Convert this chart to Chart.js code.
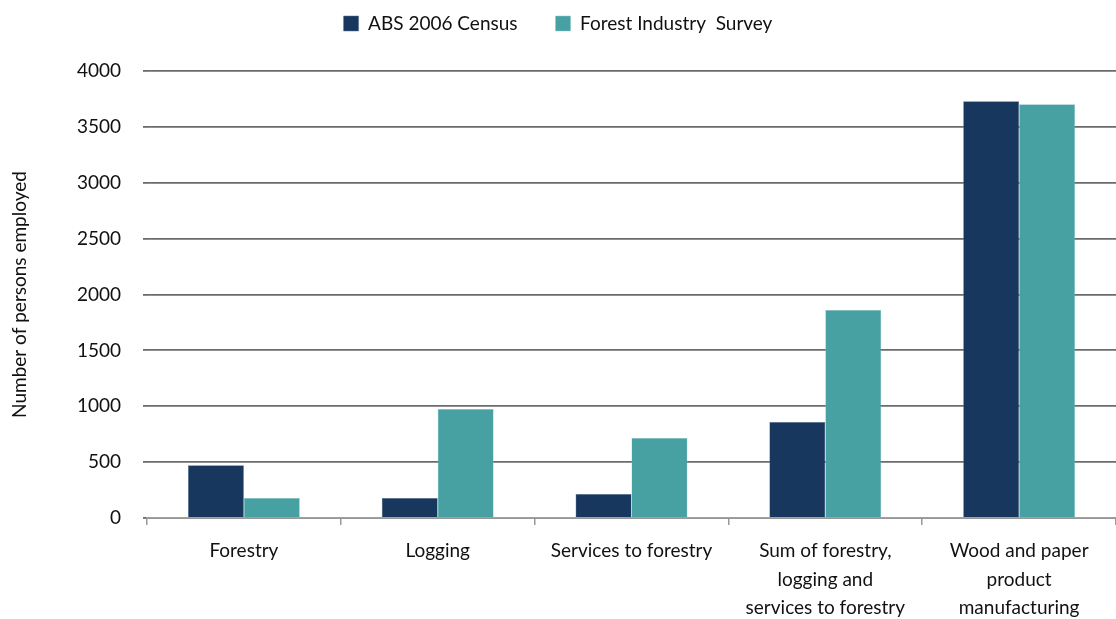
<!DOCTYPE html>
<html>
<head>
<meta charset="utf-8">
<script src="https://cdn.jsdelivr.net/npm/chart.js@4/dist/chart.umd.min.js"></script>
<style>
  html, body { margin: 0; padding: 0; background: #fff; }
  #wrap { width: 1116px; height: 619px; }
</style>
</head>
<body>
<div id="wrap"><canvas id="chart" width="1116" height="619"></canvas></div>
<script>
// ===== Data =====
const categories = [
  ["Forestry"],
  ["Logging"],
  ["Services to forestry"],
  ["Sum of forestry,", "logging and", "services to forestry"],
  ["Wood and paper", "product", "manufacturing"]
];
const absCensus = [473, 180, 215, 860, 3730];
const forestSurvey = [180, 976, 715, 1862, 3702];
const yTicks = [0, 500, 1000, 1500, 2000, 2500, 3000, 3500, 4000];

const FONT = "Lato, 'Open Sans', sans-serif";

// legend padding is wide (for item spacing), so lift the legend back up
const legendLift = {
  id: "legendLift",
  afterLayout(chart) {
    chart.legend.top -= 28;
    chart.legend.bottom -= 28;
  }
};

// ===== Chart =====
const ctx = document.getElementById("chart");
new Chart(ctx, {
  type: "bar",
  data: {
    labels: categories,
    datasets: [
      {
        label: "ABS 2006 Census",
        data: absCensus,
        backgroundColor: "#17375E",
        borderColor: "#5a6f8c",
        borderWidth: 0.5,
        barPercentage: 1.0,
        categoryPercentage: 0.577
      },
      {
        label: "Forest Industry  Survey",
        data: forestSurvey,
        backgroundColor: "#47A0A1",
        borderColor: "#8cc9ca",
        borderWidth: 0.5,
        barPercentage: 1.0,
        categoryPercentage: 0.577
      }
    ]
  },
  plugins: [legendLift],
  options: {
    responsive: false,
    animation: false,
    layout: { padding: { top: 4, right: 0, bottom: 0, left: 0 } },
    plugins: {
      legend: {
        position: "top",
        labels: {
          color: "#111",
          font: { family: FONT, size: 19 },
          boxWidth: 15,
          boxHeight: 15,
          padding: 38
        }
      },
      tooltip: { enabled: false }
    },
    scales: {
      x: {
        grid: {
          display: true,
          offset: true,
          drawOnChartArea: false,
          drawTicks: true,
          tickLength: 7,
          color: "#999",
          lineWidth: 1.5
        },
        border: { display: true, color: "#a0a0a0", width: 1.5 },
        ticks: {
          color: "#111",
          font: { family: FONT, size: 19, lineHeight: 1.5 },
          padding: 12,
          maxRotation: 0,
          autoSkip: false
        },
        afterFit: (scale) => { scale.height = 101; }
      },
      y: {
        min: 0,
        max: 4000,
        afterBuildTicks: (scale) => { scale.ticks = yTicks.map(v => ({ value: v })); },
        grid: {
          color: "#6b6b6b",
          lineWidth: 1.8,
          tickLength: 4,
          drawTicks: true
        },
        border: { display: false },
        ticks: {
          color: "#111",
          font: { family: FONT, size: 19 },
          padding: 22,
          callback: (v) => String(v)
        },
        title: {
          display: true,
          text: "Number of persons employed",
          color: "#111",
          font: { family: FONT, size: 19 },
          padding: { top: 8, bottom: 0 }
        },
        afterFit: (scale) => { scale.width = 147; }
      }
    }
  }
});
</script>
</body>
</html>
